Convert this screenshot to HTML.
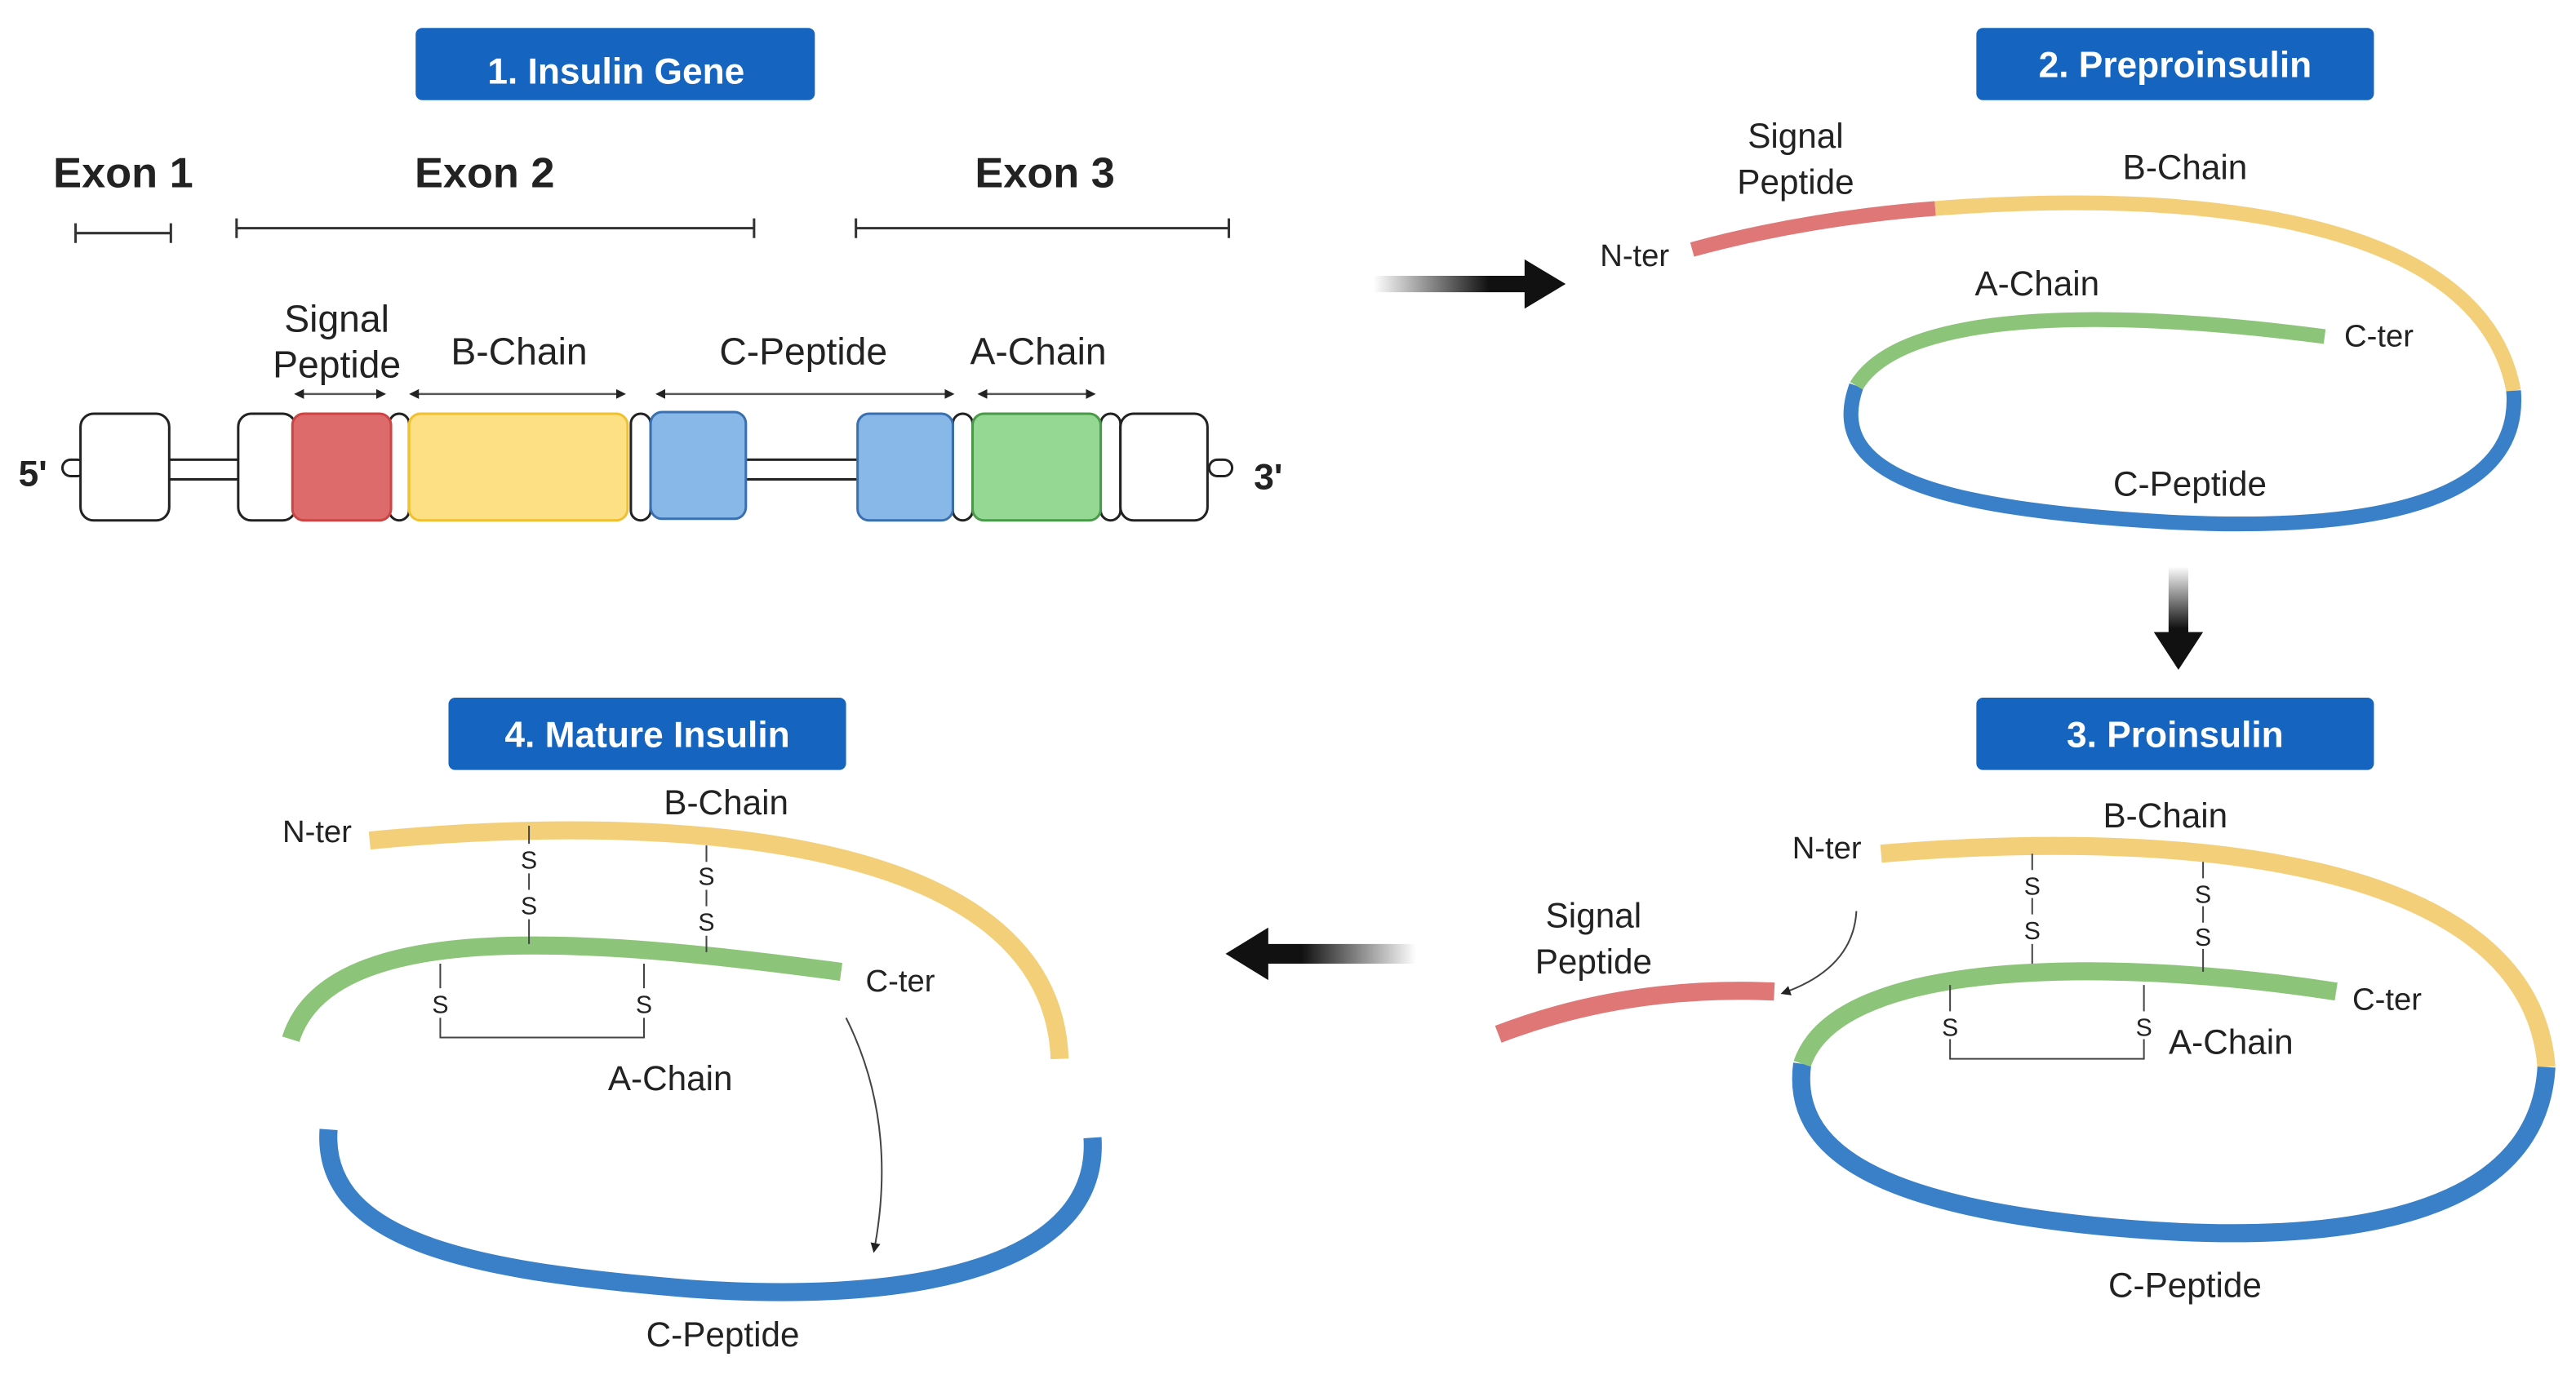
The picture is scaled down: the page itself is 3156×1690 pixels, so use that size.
<!DOCTYPE html>
<html><head><meta charset="utf-8"><style>
html,body{margin:0;padding:0;background:#fff}
svg{display:block}
text{font-family:"Liberation Sans",sans-serif;fill:#222}
</style></head><body>
<svg width="3156" height="1690" viewBox="0 0 1568 840" preserveAspectRatio="none" xmlns="http://www.w3.org/2000/svg">
<defs>
<linearGradient id="gr" x1="0" x2="1"><stop offset="0" stop-color="#fff"/><stop offset="0.6" stop-color="#111"/></linearGradient>
<linearGradient id="gl" x1="1" x2="0"><stop offset="0" stop-color="#fff"/><stop offset="0.6" stop-color="#111"/></linearGradient>
<linearGradient id="gd" x1="0" y1="0" x2="0" y2="1"><stop offset="0" stop-color="#fff"/><stop offset="0.6" stop-color="#111"/></linearGradient>
<marker id="ah" viewBox="0 0 10 10" refX="8" refY="5" markerWidth="6" markerHeight="6" orient="auto"><path d="M0,0L10,5L0,10z" fill="#222"/></marker>
<marker id="dh" viewBox="0 0 10 10" refX="5" refY="5" markerWidth="5" markerHeight="5" orient="auto-start-reverse"><path d="M0,0L10,5L0,10z" fill="#222"/></marker>
</defs>
<!-- titles -->
<g font-weight="bold" font-size="22">
<rect x="253" y="17" width="243" height="44" rx="4" fill="#1565c0"/><text x="375" y="51" text-anchor="middle" style="fill:#fff">1. Insulin Gene</text>
<rect x="1203" y="17" width="242" height="44" rx="4" fill="#1565c0"/><text x="1324" y="47" text-anchor="middle" style="fill:#fff">2. Preproinsulin</text>
<rect x="1203" y="425" width="242" height="44" rx="4" fill="#1565c0"/><text x="1324" y="455" text-anchor="middle" style="fill:#fff">3. Proinsulin</text>
<rect x="273" y="425" width="242" height="44" rx="4" fill="#1565c0"/><text x="394" y="455" text-anchor="middle" style="fill:#fff">4. Mature Insulin</text>
</g>
<!-- panel 1 -->
<g font-weight="bold" font-size="26">
<text x="75" y="114" text-anchor="middle">Exon 1</text>
<text x="295" y="114" text-anchor="middle">Exon 2</text>
<text x="636" y="114" text-anchor="middle">Exon 3</text>
<text x="20" y="296" text-anchor="middle" font-size="22">5'</text>
<text x="772" y="298" text-anchor="middle" font-size="22">3'</text>
</g>
<g stroke="#333" stroke-width="1.5">
<path d="M46,142H104M46,136V148M104,136V148"/>
<path d="M144,139H459M144,133V145M459,133V145"/>
<path d="M521,139H748M521,133V145M748,133V145"/>
</g>
<g stroke="#555" stroke-width="1.2" marker-start="url(#dh)" marker-end="url(#dh)">
<line x1="182" y1="240" x2="232" y2="240"/><line x1="252" y1="240" x2="378" y2="240"/>
<line x1="402" y1="240" x2="578" y2="240"/><line x1="598" y1="240" x2="664" y2="240"/>
</g>
<g font-size="23">
<text x="205" y="202" text-anchor="middle">Signal</text><text x="205" y="230" text-anchor="middle">Peptide</text>
<text x="316" y="222" text-anchor="middle">B-Chain</text>
<text x="489" y="222" text-anchor="middle">C-Peptide</text>
<text x="632" y="222" text-anchor="middle">A-Chain</text>
</g>
<g stroke="#222" stroke-width="1.5">
<rect x="38" y="280" width="14" height="10" rx="5" fill="#fff"/>
<rect x="736" y="280" width="14" height="10" rx="5" fill="#fff"/>
<rect x="100" y="280" width="50" height="12" fill="#fff"/>
<rect x="450" y="280" width="76" height="12" fill="#fff"/>
<rect x="49" y="252" width="54" height="65" rx="8" fill="#fff"/>
<rect x="145" y="252" width="35" height="65" rx="8" fill="#fff"/>
<rect x="237" y="252" width="12" height="65" rx="6" fill="#fff"/>
<rect x="384" y="252" width="12" height="65" rx="6" fill="#fff"/>
<rect x="580" y="252" width="12" height="65" rx="6" fill="#fff"/>
<rect x="670" y="252" width="12" height="65" rx="6" fill="#fff"/>
<rect x="682" y="252" width="53" height="65" rx="8" fill="#fff"/>
</g>
<rect x="178" y="252" width="60" height="65" rx="7" fill="#de6b6b" stroke="#c44" stroke-width="1.5"/>
<rect x="249" y="252" width="133" height="65" rx="7" fill="#fde083" stroke="#f0c030" stroke-width="1.5"/>
<rect x="396" y="251" width="58" height="65" rx="7" fill="#88b8e8" stroke="#3a70b0" stroke-width="1.5"/>
<rect x="522" y="252" width="58" height="65" rx="7" fill="#88b8e8" stroke="#3a70b0" stroke-width="1.5"/>
<rect x="592" y="252" width="78" height="65" rx="7" fill="#94d894" stroke="#4a9a4a" stroke-width="1.5"/>
<!-- big arrows -->
<path d="M836,168H928V158L953,173L928,188V178H836z" fill="url(#gr)"/>
<path d="M1320,345V385H1311L1326,408L1341,385H1332V345z" fill="url(#gd)"/>
<path d="M862,575H772V565L746,581L772,597V587H862z" fill="url(#gl)"/>
<!-- panel 2 -->
<g fill="none" stroke-width="9">
<path d="M1030,152Q1100,133 1178,127" stroke="#e07777"/>
<path d="M1178,127C1330,115 1510,130 1530,238" stroke="#f3cf7a"/>
<path d="M1530,238C1535,300 1460,325 1320,318C1180,310 1110,290 1130,235" stroke="#3a80c8"/>
<path d="M1130,235C1160,185 1300,190 1415,205" stroke="#8cc47a"/>
</g>
<g font-size="21">
<text x="995" y="162" text-anchor="middle" font-size="19">N-ter</text>
<text x="1093" y="90" text-anchor="middle">Signal</text><text x="1093" y="118" text-anchor="middle">Peptide</text>
<text x="1330" y="109" text-anchor="middle">B-Chain</text>
<text x="1240" y="180" text-anchor="middle">A-Chain</text>
<text x="1448" y="211" text-anchor="middle" font-size="19">C-ter</text>
<text x="1333" y="302" text-anchor="middle">C-Peptide</text>
</g>
<!-- panel 3 -->
<g fill="none" stroke-width="11">
<path d="M912,630Q990,600 1080,604" stroke="#e07777"/>
<path d="M1145,520C1320,505 1540,520 1550,650" stroke="#f3cf7a"/>
<path d="M1550,650C1545,740 1430,760 1290,748C1140,735 1090,700 1097,648" stroke="#3a80c8"/>
<path d="M1097,648C1120,580 1300,585 1422,604" stroke="#8cc47a"/>
</g>
<g stroke="#444" stroke-width="1" fill="none">
<path d="M1237,520V530M1237,547V557M1237,575V587"/>
<path d="M1341,525V535M1341,552V562M1341,578V592"/>
<path d="M1187,600V616M1187,633V645H1305V633M1305,600V616"/>
<path d="M1130,555Q1128,590 1085,605" marker-end="url(#ah)"/>
</g>
<g font-size="15" text-anchor="middle"><text x="1237" y="545">S</text><text x="1237" y="572">S</text><text x="1341" y="550">S</text><text x="1341" y="576">S</text><text x="1187" y="631">S</text><text x="1305" y="631">S</text></g>
<g font-size="21">
<text x="1112" y="523" text-anchor="middle" font-size="19">N-ter</text>
<text x="1318" y="504" text-anchor="middle">B-Chain</text>
<text x="970" y="565" text-anchor="middle">Signal</text><text x="970" y="593" text-anchor="middle">Peptide</text>
<text x="1453" y="615" text-anchor="middle" font-size="19">C-ter</text>
<text x="1358" y="642" text-anchor="middle">A-Chain</text>
<text x="1330" y="790" text-anchor="middle">C-Peptide</text>
</g>
<!-- panel 4 -->
<g fill="none" stroke-width="11">
<path d="M225,512C400,495 640,505 645,645" stroke="#f3cf7a"/>
<path d="M177,633C200,560 350,570 512,592" stroke="#8cc47a"/>
<path d="M200,688C195,760 300,775 420,785C560,795 670,770 665,693" stroke="#3a80c8"/>
</g>
<g stroke="#444" stroke-width="1" fill="none">
<path d="M322,503V514M322,532V542M322,560V575"/>
<path d="M430,515V525M430,542V552M430,570V580"/>
<path d="M268,587V602M268,620V632H392V620M392,587V602"/>
<path d="M515,620C540,670 540,720 532,762" marker-end="url(#ah)"/>
</g>
<g font-size="15" text-anchor="middle"><text x="322" y="529">S</text><text x="322" y="557">S</text><text x="430" y="539">S</text><text x="430" y="567">S</text><text x="268" y="617">S</text><text x="392" y="617">S</text></g>
<g font-size="21">
<text x="193" y="513" text-anchor="middle" font-size="19">N-ter</text>
<text x="442" y="496" text-anchor="middle">B-Chain</text>
<text x="548" y="604" text-anchor="middle" font-size="19">C-ter</text>
<text x="408" y="664" text-anchor="middle">A-Chain</text>
<text x="440" y="820" text-anchor="middle">C-Peptide</text>
</g>
</svg>
</body></html>
